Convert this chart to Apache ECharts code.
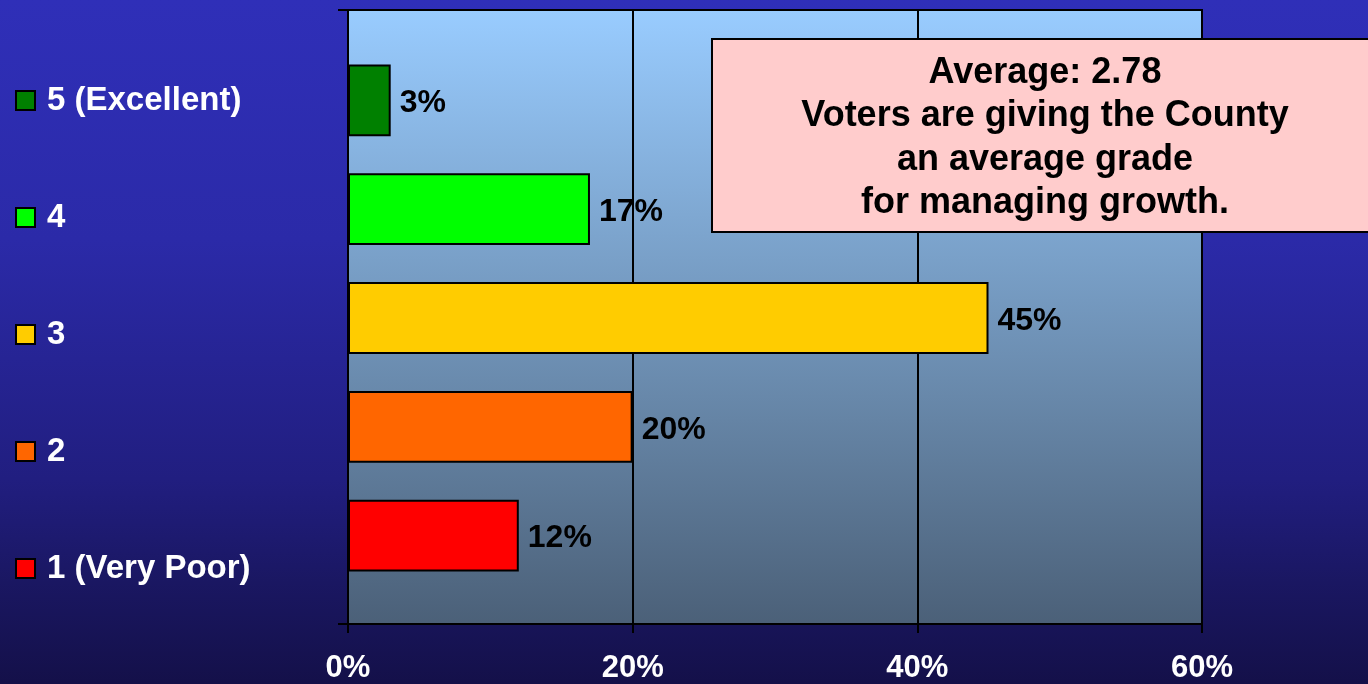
<!DOCTYPE html>
<html>
<head>
<meta charset="utf-8">
<script src="https://cdn.jsdelivr.net/npm/echarts@6/dist/echarts.min.js"></script>
<style>
  html, body { margin: 0; padding: 0; }
  #chart { width: 1368px; height: 684px; }
</style>
</head>
<body>
<div id="chart"></div>
<script>
// grades, bottom to top on the axis
var categories = ['1 (Very Poor)', '2', '3', '4', '5 (Excellent)']
var values = [12, 20, 45, 17, 3]
var barColors = ['#ff0000', '#ff6600', '#ffcc00', '#00ff00', '#008000']
var xTicks = [0, 20, 40, 60]
var noteLines = [
  'Average: 2.78',
  'Voters are giving the County',
  'an average grade',
  'for managing growth.'
]

var font = "'Liberation Sans', Arial, sans-serif"

// one series per grade so the legend lists each colour
var series = categories.map(function (name, i) {
  return {
    name: name,
    type: 'bar',
    xAxisIndex: 1,
    yAxisIndex: 1,
    barGap: '-100%',
    barCategoryGap: '34%',
    itemStyle: { color: barColors[i], borderColor: '#000', borderWidth: 2 },
    label: {
      show: true,
      position: 'right',
      distance: 9,
      offset: [0, 3],
      color: '#000',
      fontFamily: font,
      fontWeight: 'bold',
      fontSize: 32,
      formatter: '{c}%'
    },
    data: categories.map(function (c, j) { return j === i ? values[i] : '-' })
  }
})

var chart = echarts.init(document.getElementById('chart'))
chart.setOption({
  animation: false,
  backgroundColor: {
    type: 'linear', x: 0, y: 0, x2: 0, y2: 1,
    colorStops: [
      { offset: 0, color: '#2f2fb8' },
      { offset: 0.35, color: '#2b2aa8' },
      { offset: 0.7, color: '#211e80' },
      { offset: 0.85, color: '#1a1762' },
      { offset: 1, color: '#141049' }
    ]
  },
  legend: {
    orient: 'vertical',
    left: 15,
    top: 84,
    padding: 0,
    itemWidth: 19,
    itemHeight: 19,
    itemGap: 84,
    icon: 'rect',
    data: categories.slice().reverse(),
    textStyle: {
      color: '#fff',
      fontFamily: font,
      fontWeight: 'bold',
      fontSize: 33,
      lineHeight: 31,
      padding: [0, 0, 0, 7]
    }
  },
  grid: [
    {
      left: 348, right: 166, top: 10, bottom: 58,
      show: true,
      borderColor: '#000',
      borderWidth: 2,
      backgroundColor: {
        type: 'linear', x: 0, y: 0, x2: 0, y2: 1,
        colorStops: [
          { offset: 0, color: '#99ccff' },
          { offset: 1, color: '#4b6078' }
        ]
      }
    },
    { left: 348, right: 166, top: 46, bottom: 94 }
  ],
  xAxis: [
    {
      gridIndex: 0,
      type: 'value',
      min: xTicks[0],
      max: xTicks[xTicks.length - 1],
      interval: 20,
      axisLine: { show: true, lineStyle: { color: '#000', width: 2 } },
      axisTick: { show: true, length: 9, lineStyle: { color: '#000', width: 2 } },
      splitLine: { show: true, lineStyle: { color: '#000', width: 2 } },
      axisLabel: {
        color: '#fff',
        fontFamily: font,
        fontWeight: 'bold',
        fontSize: 31,
        margin: 29,
        formatter: '{value}%'
      }
    },
    {
      gridIndex: 1,
      type: 'value',
      min: xTicks[0],
      max: xTicks[xTicks.length - 1],
      show: false
    }
  ],
  yAxis: [
    {
      gridIndex: 0,
      type: 'category',
      data: [''],
      axisLine: { show: true, lineStyle: { color: '#000', width: 2 } },
      axisTick: { show: true, length: 10, lineStyle: { color: '#000', width: 2 } },
      axisLabel: { show: false }
    },
    {
      gridIndex: 1,
      type: 'category',
      data: categories,
      show: false
    }
  ],
  series: series,
  graphic: [
    {
      type: 'rect',
      z: 100,
      shape: { x: 712, y: 39, width: 700, height: 193 },
      style: { fill: '#ffcccc', stroke: '#000', lineWidth: 2 }
    },
    {
      type: 'text',
      z: 101,
      x: 1045,
      y: 138,
      style: {
        text: noteLines.join('\n'),
        align: 'center',
        verticalAlign: 'middle',
        fill: '#000',
        font: 'bold 36px ' + font,
        lineHeight: 43.5
      }
    }
  ]
})
</script>
</body>
</html>
